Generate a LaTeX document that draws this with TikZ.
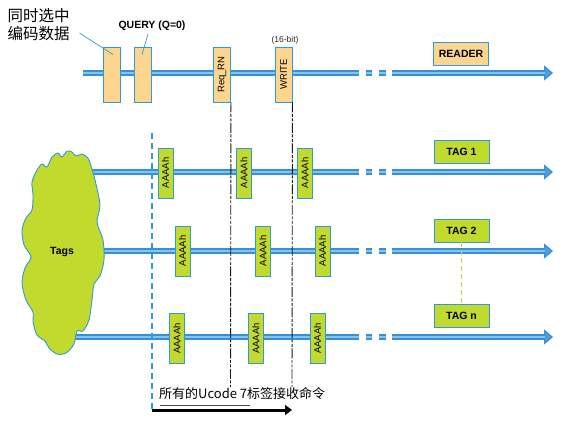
\documentclass[tikz,border=0pt]{standalone}
\usepackage{graphicx}
\usepackage{fontspec}
\setmainfont{Liberation Sans}
\newfontfamily\cjk{Noto Sans CJK SC}
\usetikzlibrary{arrows.meta}
\usetikzlibrary{calc}
\usetikzlibrary{positioning}
\definecolor{lineblue}{HTML}{3590D6}
\definecolor{lightblue}{HTML}{86C3EE}
\definecolor{edgeblue}{HTML}{2C9BD8}
\definecolor{cmdorange}{HTML}{FCD58F}
\definecolor{taggreen}{HTML}{C2D92E}
\tikzset{
  cmd/.style={draw=edgeblue, fill=cmdorange, line width=0.9pt, minimum width=17pt,
    minimum height=55pt, inner sep=0pt, font=\fontsize{9.5}{9.5}\selectfont},
  rpl/.style={draw=edgeblue, fill=taggreen, line width=0.9pt, minimum width=15pt,
    minimum height=50pt, inner sep=0pt, font=\fontsize{9.5}{9.5}\selectfont},
  party/.style={draw=edgeblue, line width=0.9pt, minimum width=55pt, minimum height=23pt,
    inner sep=0pt, font=\bfseries\fontsize{10.5}{10.5}\selectfont},
  sigout/.style={line width=6.5pt, draw=lineblue},
  sigin/.style={line width=2.4pt, draw=lightblue},
  lead/.style={draw=edgeblue, line width=0.7pt},
  sync/.style={draw=black!90, line width=0.9pt,
    dash pattern=on 10pt off 1.5pt on 3pt off 1.5pt on 3pt off 1.5pt}
}

\begin{document}
\begin{tikzpicture}[x=1pt,y=-1pt]
  \useasboundingbox (0,0) rectangle (569,423);

  % time lines of reader and tags
  \foreach \lab/\xs/\y in {
    rd/83/73,
    ta/88/172,
    tb/98/251,
    tc/70/337%
  } {
    \coordinate (\lab s) at (\xs, \y);
    \coordinate (\lab g) at (359, \y);
    \coordinate (\lab h) at (392, \y);
    \coordinate (\lab e) at (553, \y);
    \draw[sigout] (\lab s) -- (\lab g);
    \draw[sigin] (\lab s) -- (\lab g);
    \draw[sigout, dash pattern=on 0pt off 7pt on 6pt off 7pt on 7pt off 40pt] (\lab g) -- (\lab h);
    \draw[sigin, dash pattern=on 0pt off 7pt on 6pt off 7pt on 7pt off 40pt] (\lab g) -- (\lab h);
    \draw[sigout, -{Triangle[length=9pt, width=15pt, line width=1.2pt, fill=lineblue!70!lightblue]}] (\lab h) -- (\lab e);
    \draw[sigin] (\lab h) -- ($(\lab e)+(-8,0)$);
  }

  % reader commands
  \node[cmd] (qa) at (111.5, 74.5) {};
  \node[cmd] (qb) at (142.5, 74.5) {};
  \node[cmd] (rq) at (222, 74.5) {\rotatebox{90}{Req\_RN}};
  \node[cmd] (wr) at (283.5, 74.5) {\rotatebox{90}{WRITE}};

  \coordinate (rqe) at (230.5, 387);
  \coordinate (wre) at (292, 387);
  \draw[sync] (rq.south east) -- (rqe);
  \draw[sync] (wr.south east) -- (wre);

  % tag replies
  \foreach \n/\x/\y in {
    a1/165.5/173, a2/244/173, a3/305/173,
    b1/182.5/251, b2/263/251, b3/322.5/251,
    c1/177/338.5, c2/256/338.5, c3/317.5/338.5%
  } {
    \node[rpl] (\n) at (\x, \y) {\rotatebox{90}{AAAAh}};
  }

  \node[party, fill=cmdorange] (reader) at (461, 53.5) {READER};
  \node[party, fill=taggreen] (tg1) at (461.5, 152) {TAG 1};
  \node[party, fill=taggreen] (tg2) at (461.5, 230.5) {TAG 2};
  \node[party, fill=taggreen] (tgn) at (461.5, 315.5) {TAG n};
  \draw[taggreen, line width=1pt, dash pattern=on 5pt off 3pt] (tg2.south) -- (tgn.north);

  % cloud of tags
  \draw[edgeblue, fill=taggreen, line width=0.9pt] plot[smooth cycle, tension=0.5] coordinates {
    (37,170) (42,164) (47,167) (52,157) (58,153) (62,157) (67,151) (72,152) (76,156)
    (82,154) (88,158) (91,166) (95,180) (100,205) (97,222) (103,240) (104,260)
    (100,276) (94,284) (92,300) (89,320) (83,331) (77,331) (74,344) (66,353)
    (57,354) (49,348) (45,341) (37,335) (33,322) (33,312) (26,300) (22,283)
    (25,268) (31,257) (24,245) (22,230) (26,218) (32,210) (33,195) (32,182)};
  \node[font=\bfseries\fontsize{10.5}{10.5}\selectfont] (tags) at (62, 252) {Tags};

  % labels on top
  \node[font=\cjk\fontsize{15.5}{18.5}\selectfont, align=left] (sel) at (38.5, 24.5) {同时选中\\编码数据};
  \node[font=\bfseries\fontsize{10.5}{10.5}\selectfont] (query) at (152, 25.5) {QUERY (Q=0)};
  \node[font=\fontsize{8.5}{8.5}\selectfont, text=black!85] (bits) at (285, 40) {(16-bit)};
  \draw[lead] ($(sel.east)+(6.5,8.5)$) -- ($(qa.north)+(1.5,8)$);
  \draw[lead] ($(query.south)+(-4,0)$) -- ($(qb.north)+(-0.5,8)$);

  % all tags receive
  \coordinate (st) at (152, 133);
  \coordinate (sb) at (152, 410);
  \coordinate (ae) at (292, 410);
  \draw[edgeblue, line width=1.4pt, dash pattern=on 6pt off 4pt] (st) -- (sb);
  \draw[line width=3pt, -{Triangle[length=7pt, width=10pt]}] (sb) -- (ae);
  \node[font=\cjk\fontsize{13}{13}\selectfont, anchor=west, inner sep=0pt] (all) at (159, 394) {所有的Ucode 7标签接收命令};
  \coordinate (ula) at (160, 405);
  \coordinate (ulb) at (250, 405);
  \draw[black!70, line width=0.7pt] (ula) -- (ulb);
\end{tikzpicture}
\end{document}
